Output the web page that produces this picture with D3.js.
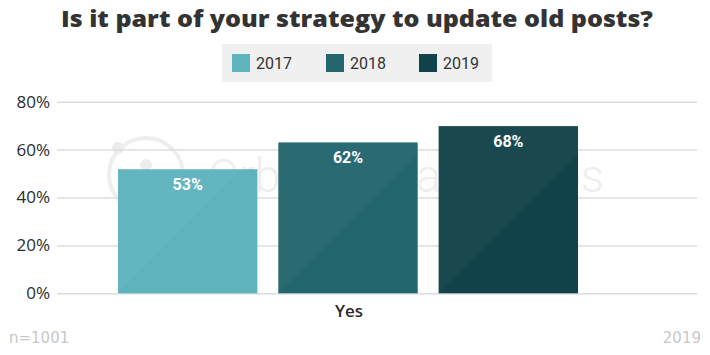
<!DOCTYPE html>
<html>
<head>
<meta charset="utf-8">
<script src="https://cdn.jsdelivr.net/npm/d3@7"></script>
<style>
  html, body { margin: 0; padding: 0; background: #fff; }
  svg { display: block; }
</style>
</head>
<body>
<div id="chart"></div>
<script>
// ---- data ----
const title = "Is it part of your strategy to update old posts?";
const categories = ["Yes"];
const seriesNames = ["2017", "2018", "2019"];
const seriesValues = [51.8, 63, 69.8];          // bar heights (%)
const valueLabels = ["53%", "62%", "68%"];      // labels printed on the bars
const seriesColors = ["#5eb3bd", "#24666e", "#13434a"];
const yTicks = [0, 20, 40, 60, 80];
const footLeft = "n=1001";
const footRight = "2019";
const watermarkText = "Orbit Media Studios";

const W = 710, H = 355;

const svg = d3.select("#chart").append("svg").attr("width", W).attr("height", H);

// scales
const y = d3.scaleLinear().domain([0, 80]).range([293.3, 101.7]);
const x0 = d3.scaleBand().domain(categories).range([118, 578]).padding(0);
const x1 = d3.scaleBand().domain(seriesNames).range([0, x0.bandwidth()]).paddingInner(20 / 153.3).paddingOuter(0);

// watermark (faint, behind the bars)
const wm = svg.append("g").attr("class", "watermark");
wm.append("circle").attr("cx", 146).attr("cy", 175).attr("r", 37)
  .attr("fill", "none").attr("stroke", "#eeeeee").attr("stroke-width", 4);
wm.append("circle").attr("cx", 146).attr("cy", 165).attr("r", 6).attr("fill", "#ececec");
wm.append("circle").attr("cx", 118).attr("cy", 148).attr("r", 6).attr("fill", "#ececec");
wm.append("text").attr("x", 208).attr("y", 192)
  .attr("font-family", "Roboto, 'Liberation Sans', sans-serif").attr("font-weight", 300)
  .attr("font-size", 46).attr("fill", "#eeeeee").text(watermarkText);

// gridlines + y axis
const yAxis = d3.axisLeft(y).tickValues(yTicks).tickFormat(d => d + "%").tickSize(-(697 - 57)).tickPadding(7);
const gy = svg.append("g").attr("transform", "translate(57,0)").call(yAxis);
gy.select(".domain").remove();
gy.selectAll(".tick line").attr("stroke", "#dcdcdc").attr("stroke-width", 1.5);
gy.selectAll(".tick text")
  .attr("font-family", "'Open Sans', 'DejaVu Sans', sans-serif").attr("font-size", 17)
  .attr("fill", "#2b2b2b").attr("font-weight", 500);

const defs = svg.append("defs");

// bars
const barsG = svg.append("g");
categories.forEach(cat => {
  seriesNames.forEach((s, i) => {
    const bx = x0(cat) + x1(s), bw = x1.bandwidth();
    const by = y(seriesValues[i]), bh = y(0) - y(seriesValues[i]);
    barsG.append("rect").attr("x", bx).attr("y", by).attr("width", bw).attr("height", bh)
      .attr("fill", seriesColors[i]);
    defs.append("clipPath").attr("id", "clip" + i)
      .append("rect").attr("x", bx).attr("y", by).attr("width", bw).attr("height", bh);
    const b = y(0);
    barsG.append("path")
      .attr("clip-path", "url(#clip" + i + ")")
      .attr("d", `M${bx},${b} L${bx + (b - by)},${by} L${bx},${by} Z`)
      .attr("fill", "#ffffff").attr("opacity", 0.03);
    barsG.append("text")
      .attr("x", bx + bw / 2).attr("y", by + 21)
      .attr("text-anchor", "middle")
      .attr("font-family", "Roboto, 'Liberation Sans', sans-serif").attr("font-weight", 700)
      .attr("font-size", 16).attr("fill", "#ffffff")
      .text(valueLabels[i]);
  });
});

// x category label
svg.append("g").selectAll("text").data(categories).join("text")
  .attr("x", d => x0(d) + x0.bandwidth() / 2 + 1).attr("y", 317).attr("text-anchor", "middle")
  .attr("font-family", "'Open Sans', 'DejaVu Sans', sans-serif").attr("font-weight", 600)
  .attr("font-size", 17).attr("fill", "#2b2b2b").text(d => d);

// title
const t = svg.append("text").attr("x", 357).attr("y", 27).attr("text-anchor", "middle")
  .attr("font-family", "'Open Sans', 'DejaVu Sans', sans-serif").attr("font-weight", 800)
  .attr("font-size", 22).attr("fill", "#333333").text(title);
if (t.node().getComputedTextLength() > 0) t.attr("textLength", 592).attr("lengthAdjust", "spacingAndGlyphs");

// legend
const lg = svg.append("g");
lg.append("rect").attr("x", 222).attr("y", 44).attr("width", 270).attr("height", 38).attr("fill", "#f0f0f0");
const legX = [232, 326, 419];
seriesNames.forEach((s, i) => {
  lg.append("rect").attr("x", legX[i]).attr("y", 54).attr("width", 18).attr("height", 18).attr("fill", seriesColors[i]);
  lg.append("text").attr("x", legX[i] + 24).attr("y", 69)
    .attr("font-family", "Roboto, 'Liberation Sans', sans-serif").attr("font-size", 16)
    .attr("fill", "#333333").text(s);
});

// footer
svg.append("text").attr("x", 9).attr("y", 343)
  .attr("font-family", "'DejaVu Sans', sans-serif").attr("font-size", 15).attr("fill", "#c8c8c8").text(footLeft);
svg.append("text").attr("x", 701).attr("y", 343).attr("text-anchor", "end")
  .attr("font-family", "'DejaVu Sans', sans-serif").attr("font-size", 15).attr("fill", "#c8c8c8").text(footRight);
</script>
</body>
</html>
